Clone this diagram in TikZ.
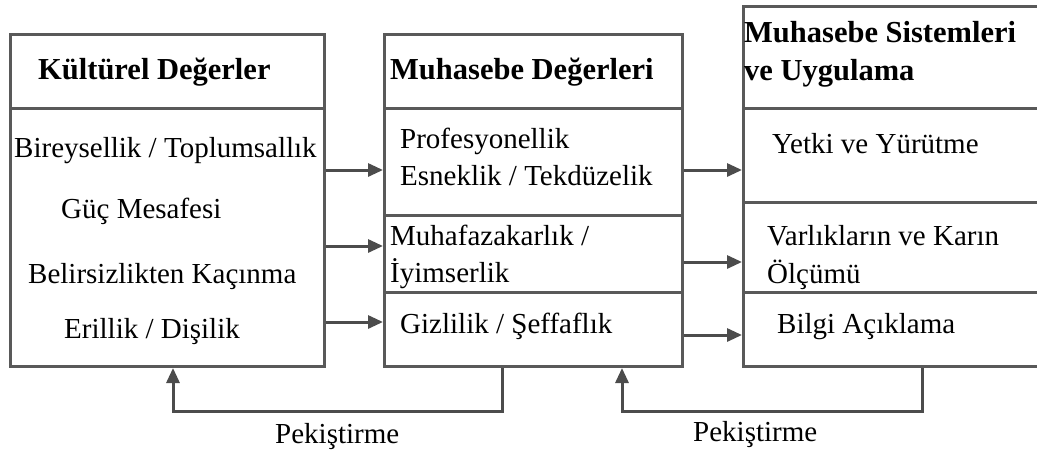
\documentclass[tikz,border=0pt]{standalone}
\usepackage{fontspec}
\setmainfont{Liberation Serif}
\usetikzlibrary{arrows.meta, positioning}

\begin{document}
\begin{tikzpicture}[x=1pt,y=-1pt,>={Triangle[length=15pt,width=13pt]},
      every node/.style={inner sep=0pt,font=\fontsize{29}{34}\selectfont},
      frame/.style={draw=black!65,line width=3pt,anchor=north west,minimum height=#1},
      divider/.style={draw=black!65,line width=3pt},
      flow/.style={->,draw=black!70,line width=3pt},
      head/.style={anchor=base west,font=\fontsize{30.5}{36}\selectfont\bfseries},
      item/.style={anchor=base west}]
      \clip (0,0) rectangle (1037,453);
      % the three boxes
      \node[frame=332pt, minimum width=314pt] (kv) at (9,33) {};
      \node[frame=332pt, minimum width=298pt] (mv) at (383,33) {};
      \node[frame=360pt, minimum width=330pt] (ms) at (742,5) {};
      \draw[divider] (kv.west |- 0,108) -- (kv.east |- 0,108);
      \draw[divider] (mv.west |- 0,108) -- (mv.east |- 0,108);
      \draw[divider] (mv.west |- 0,215) -- (mv.east |- 0,215);
      \draw[divider] (mv.west |- 0,292) -- (mv.east |- 0,292);
      \draw[divider] (ms.west |- 0,108) -- (ms.east |- 0,108);
      \draw[divider] (ms.west |- 0,202) -- (ms.east |- 0,202);
      \draw[divider] (ms.west |- 0,292) -- (ms.east |- 0,292);
      % headers
      \node[head] (kvhead) at (38,79) {Kültürel Değerler};
      \node[head] (mvhead) at (390,79) {Muhasebe Değerleri};
      \node[head] (mshead) at (744,42) {Muhasebe Sistemleri};
      \node[head] (mshead2) at (744,80) {ve Uygulama};
      % items
      \node[item] (bireysel) at (14,157) {Bireysellik / Toplumsallık};
      \node[item] (guc) at (61,218) {Güç Mesafesi};
      \node[item] (belirsiz) at (28,283) {Belirsizlikten Kaçınma};
      \node[item] (erillik) at (64,338) {Erillik / Dişilik};
      \node[item] (profes) at (400,148) {Profesyonellik};
      \node[item] (esnek) at (400,185) {Esneklik / Tekdüzelik};
      \node[item] (muhafaza) at (390,245) {Muhafazakarlık /};
      \node[item] (iyimser) at (390,282) {İyimserlik};
      \node[item] (gizlilik) at (400,333) {Gizlilik / Şeffaflık};
      \node[item] (yetki) at (772,153) {Yetki ve Yürütme};
      \node[item] (varlik) at (767,245) {Varlıkların ve Karın};
      \node[item] (olcum) at (767,283) {Ölçümü};
      \node[item] (bilgi) at (777,333) {Bilgi Açıklama};
      % flows
      \draw[flow] (kv.east |- 0,170) -- (mv.west |- 0,170);
      \draw[flow] (kv.east |- 0,246) -- (mv.west |- 0,246);
      \draw[flow] (kv.east |- 0,322) -- (mv.west |- 0,322);
      \draw[flow] (mv.east |- 0,170) -- (ms.west |- 0,170);
      \draw[flow] (mv.east |- 0,262) -- (ms.west |- 0,262);
      \draw[flow] (mv.east |- 0,335) -- (ms.west |- 0,335);
      % feedback loops
      \coordinate (loopl) at (173,411);
      \coordinate (loopr) at (622,411);
      \draw[flow] (mv.south -| 502,0) |- (loopl) -- (kv.south -| loopl);
      \draw[flow] (ms.south -| 922,0) |- (loopr) -- (mv.south -| loopr);
      \node[item] (pekl) at (275,443) {Pekiştirme};
      \node[item] (pekr) at (693,441) {Pekiştirme};
    \end{tikzpicture}
\end{document}
